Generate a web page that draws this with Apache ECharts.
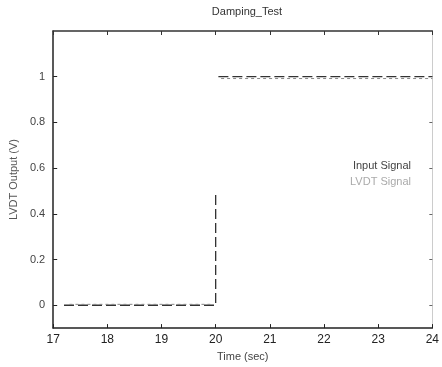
<!DOCTYPE html>
<html><head><meta charset="utf-8">
<script src="https://cdn.jsdelivr.net/npm/echarts@6/dist/echarts.min.js"></script>
<style>html,body{margin:0;padding:0;background:#fff}#c{width:442px;height:367px}</style>
</head><body><div id="c"></div>
<script>
const xTicks = [17,18,19,20,21,22,23,24];
const yTicks = [0,0.2,0.4,0.6,0.8,1];
const inputTime = [17.2, 20, 20, null, 20.05, 24];
const inputValue = [0, 0, 0.5, null, 1, 1];
const lvdtTime = [17.3, 19.9, null, 20.1, 24];
const lvdtValue = [0.004, 0.004, null, 0.992, 0.992];

const toPairs = (t, v) => t.map((x, i) => x === null ? [null, null] : [x, v[i]]);
const font = 'Liberation Sans, Arial, sans-serif';
const chart = echarts.init(document.getElementById('c'));
chart.setOption({
  animation: false,
  title: { text: 'Damping_Test', left: 242, top: 1, textAlign: 'center',
    textStyle: { fontFamily: font, fontSize: 11, fontWeight: 'normal', color: '#333' } },
  grid: { left: 53, top: 31, width: 382, height: 299 },
  legend: {
    orient: 'vertical', right: 21, top: 155, align: 'right', itemGap: 5,
    itemWidth: 14, itemHeight: 8, icon: 'none',
    textStyle: { fontFamily: font, fontSize: 11 },
    data: [
      { name: 'Input Signal', textStyle: { color: '#444' } },
      { name: 'LVDT Signal', textStyle: { color: '#aaa' } }
    ]
  },
  xAxis: [{
    type: 'value', min: 17, max: 24, interval: 1,
    name: 'Time (sec)', nameLocation: 'middle', nameGap: 20,
    nameTextStyle: { fontFamily: font, fontSize: 11, color: '#444' },
    axisLine: { onZero: false, lineStyle: { color: '#222', width: 1.5 } },
    axisTick: { inside: true, length: 4, lineStyle: { color: '#222' } },
    axisLabel: { fontFamily: font, fontSize: 12, color: '#222', margin: 6 },
    splitLine: { show: false }
  }, {
    type: 'value', min: 17, max: 24, interval: 1, position: 'top',
    axisLine: { onZero: false, lineStyle: { color: '#333', width: 1.5 } },
    axisTick: { inside: true, length: 4, lineStyle: { color: '#333' } },
    axisLabel: { show: false }, splitLine: { show: false }
  }],
  yAxis: [{
    type: 'value', min: -0.1, max: 1.2,
    name: 'LVDT Output (V)', nameLocation: 'middle', nameGap: 34, nameRotate: 90,
    nameTextStyle: { fontFamily: font, fontSize: 11, color: '#555' },
    axisLine: { show: true, onZero: false, lineStyle: { color: '#222', width: 1.5 } },
    axisTick: { inside: true, length: 4, customValues: yTicks, lineStyle: { color: '#222' } },
    axisLabel: { fontFamily: font, fontSize: 11, color: '#444', margin: 8,
      customValues: yTicks, formatter: v => String(+v.toFixed(1)) },
    splitLine: { show: false }
  }, {
    type: 'value', min: -0.1, max: 1.2, position: 'right',
    axisLine: { show: true, onZero: false, lineStyle: { color: '#ccc', width: 1 } },
    axisTick: { inside: true, length: 3, customValues: yTicks, lineStyle: { color: '#666' } },
    axisLabel: { show: false }, splitLine: { show: false }
  }],
  series: [{
    name: 'Input Signal', type: 'line', showSymbol: false, connectNulls: false,
    data: toPairs(inputTime, inputValue),
    lineStyle: { color: '#333', width: 1.3, type: [10, 4] }
  }, {
    name: 'LVDT Signal', type: 'line', showSymbol: false, connectNulls: false,
    data: toPairs(lvdtTime, lvdtValue),
    lineStyle: { color: '#888', width: 1, type: [3, 3] }
  }]
});
</script></body></html>
